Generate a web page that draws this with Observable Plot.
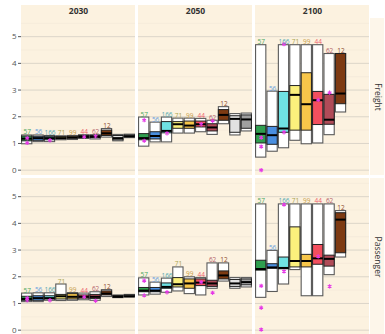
<!DOCTYPE html>
<html>
<head>
<meta charset="utf-8">
<script src="https://cdn.jsdelivr.net/npm/d3@7"></script>
<script src="https://cdn.jsdelivr.net/npm/@observablehq/plot@0.6"></script>
<style>
  html, body { margin: 0; padding: 0; background: #fff; overflow: hidden; }
</style>
</head>
<body>
<div id="chart"></div>
<script>
// Facets
const years = ["2030", "2050", "2100"];
const modes = ["Freight", "Passenger"];

// Model groups (eight model ensembles + two pooled reference ranges)
const groups = ["A", "B", "C", "D", "E", "F", "G", "H", "R1", "R2"];
const counts = ["57", "56", "166", "71", "99", "44", "62", "12", "", ""];
const fills = ["#2f9e4f", "#4a8fe0", "#6fe1e3", "#fbf07c", "#f7c64a", "#f24f5e", "#b04b58", "#7d3a12", "#e2e2e2", "#a0a0a0"];
const labelColors = ["#4aa862", "#6a9fdf", "#55aab2", "#aaa44e", "#c9a04a", "#ec5f6c", "#b5636d", "#8d4c2e", "", ""];

// [min, lower quartile, median, upper quartile, max] per group
const freight2030 = [
  [0.97, 1.08, 1.18, 1.26, 1.30], [1.05, 1.10, 1.20, 1.25, 1.30], [1.05, 1.12, 1.20, 1.25, 1.28],
  [1.12, 1.16, 1.20, 1.24, 1.27], [1.13, 1.18, 1.22, 1.25, 1.28], [1.17, 1.20, 1.25, 1.28, 1.31],
  [1.15, 1.20, 1.25, 1.28, 1.31], [1.22, 1.28, 1.38, 1.48, 1.54], [1.08, 1.12, 1.20, 1.28, 1.32],
  [1.20, 1.23, 1.27, 1.30, 1.33]
];
const freight2050 = [
  [0.88, 1.12, 1.20, 1.35, 1.97], [1.04, 1.15, 1.28, 1.42, 1.78], [1.04, 1.38, 1.47, 1.80, 1.97],
  [1.37, 1.55, 1.72, 1.80, 1.93], [1.37, 1.55, 1.67, 1.82, 1.93], [1.42, 1.60, 1.72, 1.82, 1.92],
  [1.32, 1.45, 1.60, 1.72, 1.85], [1.72, 1.85, 2.07, 2.25, 2.36], [1.30, 1.40, 1.92, 2.02, 2.10],
  [1.45, 1.55, 1.90, 2.05, 2.12]
];
const freight2100 = [
  [0.47, 1.00, 1.36, 1.66, 4.68], [0.69, 0.95, 1.31, 1.62, 2.94], [0.82, 1.40, 1.56, 2.93, 4.68],
  [1.10, 1.48, 2.82, 3.15, 4.68], [0.97, 1.48, 2.47, 3.63, 4.68], [1.00, 1.69, 2.62, 2.93, 4.68],
  [1.31, 1.70, 1.89, 2.82, 4.35], [2.16, 2.47, 2.87, 4.35, 4.35]
];
const passenger2030 = [
  [1.05, 1.10, 1.17, 1.25, 1.37], [1.05, 1.10, 1.20, 1.27, 1.38], [1.10, 1.15, 1.20, 1.27, 1.38],
  [1.09, 1.15, 1.27, 1.32, 1.71], [1.10, 1.15, 1.25, 1.35, 1.39], [1.12, 1.18, 1.25, 1.30, 1.37],
  [1.10, 1.17, 1.25, 1.32, 1.42], [1.24, 1.30, 1.37, 1.45, 1.50], [1.20, 1.22, 1.25, 1.28, 1.30],
  [1.22, 1.24, 1.27, 1.30, 1.32]
];
const passenger2050 = [
  [1.30, 1.42, 1.48, 1.58, 1.94], [1.33, 1.42, 1.48, 1.58, 1.78], [1.40, 1.55, 1.62, 1.75, 1.93],
  [1.45, 1.60, 1.72, 1.95, 2.35], [1.35, 1.55, 1.75, 1.90, 1.98], [1.30, 1.65, 1.78, 1.90, 1.95],
  [1.55, 1.62, 1.75, 1.85, 2.50], [1.82, 1.90, 2.05, 2.20, 2.50], [1.55, 1.62, 1.75, 1.88, 1.95],
  [1.60, 1.68, 1.80, 1.90, 1.95]
];
const passenger2100 = [
  [1.21, 2.23, 2.29, 2.60, 4.71], [1.43, 2.30, 2.35, 2.47, 2.97], [1.71, 2.28, 2.33, 2.72, 4.71],
  [2.25, 2.35, 2.59, 3.85, 4.71], [1.27, 2.35, 2.59, 2.82, 4.71], [1.27, 2.45, 2.69, 3.19, 4.71],
  [2.06, 2.38, 2.67, 2.79, 4.71], [2.72, 2.88, 4.14, 4.38, 4.46]
];

// Individual highlighted scenarios: [group, value]
const freight2030Marks = [["A", 1.20], ["A", 1.02], ["C", 1.12], ["F", 1.25], ["G", 1.27]];
const freight2050Marks = [["A", 1.87], ["A", 1.10], ["C", 1.38], ["F", 1.72], ["G", 1.85]];
const freight2100Marks = [["A", 1.22], ["A", 0.88], ["A", 0.0], ["C", 4.72], ["C", 1.42], ["F", 2.63], ["G", 2.90]];
const passenger2030Marks = [["A", 1.12], ["A", 1.20], ["C", 1.12], ["F", 1.25], ["G", 1.10]];
const passenger2050Marks = [["A", 1.85], ["A", 1.30], ["C", 1.42], ["F", 1.80], ["G", 1.40]];
const passenger2100Marks = [["A", 1.66], ["A", 0.84], ["A", 0.02], ["C", 4.70], ["C", 2.20], ["F", 2.76], ["G", 1.64]];

const majorGrid = [0, 1, 2, 3, 4, 5];
const minorGrid = [0.5, 1.5, 2.5, 3.5, 4.5, 5.5];

const panels = [
  {mode: "Freight", year: "2030", boxes: freight2030, marks: freight2030Marks},
  {mode: "Freight", year: "2050", boxes: freight2050, marks: freight2050Marks},
  {mode: "Freight", year: "2100", boxes: freight2100, marks: freight2100Marks},
  {mode: "Passenger", year: "2030", boxes: passenger2030, marks: passenger2030Marks},
  {mode: "Passenger", year: "2050", boxes: passenger2050, marks: passenger2050Marks},
  {mode: "Passenger", year: "2100", boxes: passenger2100, marks: passenger2100Marks}
];

// Each group occupies one slot on a shared positional axis; boxes fill 90% of a slot
const slotOf = g => groups.indexOf(g) + 1;
const half = 0.45;
const xDomain = [0.5, groups.length + 0.5];
const yDomain = [-0.2, 5.68];

const boxes = panels.flatMap(p => p.boxes.map((b, i) => ({
  mode: p.mode, year: p.year, group: groups[i], slot: i + 1,
  left: i + 1 - half, right: i + 1 + half,
  min: b[0], q1: b[1], med: b[2], q3: b[3], max: b[4],
  fill: fills[i], labelColor: labelColors[i], count: counts[i]
})));
const markers = panels.flatMap(p => p.marks.map(([g, v]) => ({mode: p.mode, year: p.year, slot: slotOf(g), value: v})));

const cells = panels.map(p => ({mode: p.mode, year: p.year}));
const stripTop = years.map(y => ({year: y, mode: "Freight"}));
const stripRight = modes.map(m => ({year: "2100", mode: m}));

// Layout
const W = 385, H = 335;
const mL = 21, mR = 15, mT = 18;
const gap = 3;
const facetW = ((W - mL - mR) - 2 * gap) / 3;
const facetH = ((H - mT) - gap) / 2;

const panelFill = "#fcf2e0";
const stripFill = "#fdf6ea";
const facet = {fx: "year", fy: "mode"};
const fullCell = {x1: xDomain[0], x2: xDomain[1], y1: yDomain[0], y2: yDomain[1]};

const chart = Plot.plot({
  width: W,
  height: H,
  marginTop: mT,
  marginRight: mR,
  marginBottom: 0,
  marginLeft: mL,
  style: {fontFamily: "'Open Sans', 'DejaVu Sans', sans-serif", fontSize: "8px", color: "#555", background: "white"},
  fx: {domain: years, axis: null, paddingInner: gap / (facetW + gap), paddingOuter: 0},
  fy: {domain: modes, axis: null, paddingInner: gap / (facetH + gap), paddingOuter: 0},
  x: {domain: xDomain, axis: null},
  y: {domain: yDomain, ticks: 6, tickSize: 3, tickPadding: 2, label: null},
  color: {type: "identity"},
  marks: [
    // panel backgrounds; the top row also carries the year strip
    Plot.rect(cells.filter(d => d.mode === "Freight"), {...facet, ...fullCell, fill: panelFill, insetTop: -13}),
    Plot.rect(cells.filter(d => d.mode !== "Freight"), {...facet, ...fullCell, fill: panelFill}),
    // strip on the right for the mode labels
    Plot.rect(stripRight, {...facet, x1: xDomain[1], x2: xDomain[1], y1: yDomain[0], y2: yDomain[1], fill: stripFill, insetLeft: 1, insetRight: -mR}),
    Plot.ruleY(minorGrid, {x1: xDomain[0], x2: xDomain[1], stroke: "#f2e8d6", strokeWidth: 0.6}),
    Plot.ruleY(majorGrid, {x1: xDomain[0], x2: xDomain[1], stroke: "#d8d2c6", strokeWidth: 0.9}),
    Plot.rect(boxes, {...facet, x1: "left", x2: "right", y1: "min", y2: "max", fill: "white", stroke: "#5a5a5a", strokeWidth: 1.1}),
    Plot.rect(boxes, {...facet, x1: "left", x2: "right", y1: "q1", y2: "q3", fill: "fill", stroke: "#222", strokeWidth: 1}),
    Plot.ruleY(boxes, {...facet, x1: "left", x2: "right", y: "med", stroke: "#000", strokeWidth: 2}),
    Plot.dot(markers, {...facet, x: "slot", y: "value", symbol: "asterisk", r: 2, stroke: "#e639e6", strokeWidth: 1.1}),
    Plot.text(boxes.filter(d => d.count), {...facet, x: "slot", y: "max", text: "count", fill: "labelColor", fontSize: 6.5, lineAnchor: "bottom", dy: -1}),
    Plot.text(stripTop, {...facet, x: (xDomain[0] + xDomain[1]) / 2, y: yDomain[1], text: "year", dy: -7, fill: "#333", fontSize: 8.5, fontWeight: "bold"}),
    Plot.text(stripRight, {...facet, x: xDomain[1], y: (yDomain[0] + yDomain[1]) / 2, text: "mode", dx: 8, rotate: 90, fill: "#333", fontSize: 8.5})
  ]
});

document.getElementById("chart").append(chart);
</script>
</body>
</html>
